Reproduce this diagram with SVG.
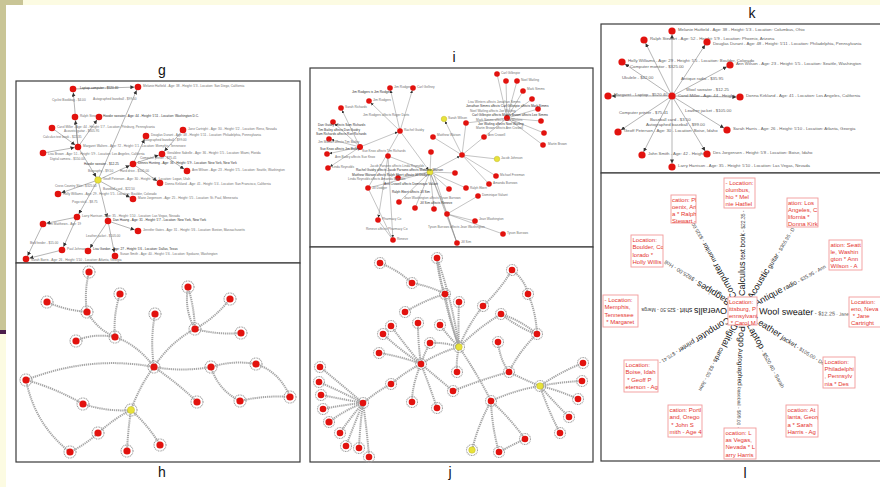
<svg xmlns="http://www.w3.org/2000/svg" width="880" height="487" viewBox="0 0 880 487">
<style>
.n{fill:#e2120e}
.y{fill:#e8e23a;stroke:#b5ad22;stroke-width:0.4}
.e{stroke:#6a6a6a;stroke-width:0.5;fill:none}
.ei{stroke:#7a7a7a;stroke-width:0.45;fill:none}
.ring{fill:none;stroke:#9c9c9c;stroke-width:1.1;stroke-dasharray:1 0.7}
.ce{fill:none;stroke:#a6a6a6;stroke-width:2;stroke-dasharray:1.3 0.8}
.fr{fill:#fff;stroke:#3a3a3a;stroke-width:1.2}
.lab{font-family:"Liberation Sans",Arial,sans-serif;font-size:14px;fill:#111;text-anchor:middle}
.t3{font-family:"Liberation Sans",Arial,sans-serif;font-size:3.2px;fill:#707070}
.td{fill:#303030}
.tk{font-family:"Liberation Sans",Arial,sans-serif;font-size:4.3px;fill:#606060}
.lb{fill:#fff;stroke:#f29a9a;stroke-width:0.9}
.lt{font-family:"Liberation Sans",Arial,sans-serif;font-size:6px;fill:#e5342e}
.et{font-family:"Liberation Sans",Arial,sans-serif;fill:#151515}
.es{fill:#484848}
</style>
<defs>
<marker id="ar" viewBox="0 0 10 10" refX="19" refY="5" markerUnits="userSpaceOnUse" markerWidth="4" markerHeight="4" orient="auto"><path d="M0,0L10,5L0,10z" fill="#333"/></marker>
<marker id="ai" viewBox="0 0 10 10" refX="18" refY="5" markerUnits="userSpaceOnUse" markerWidth="3" markerHeight="3" orient="auto"><path d="M0,0L10,5L0,10z" fill="#333"/></marker>
</defs>

<!-- slide background -->
<rect x="0" y="0" width="880" height="487" fill="#fff"/>
<rect x="0" y="0" width="880" height="5" fill="#fcfbe2"/>
<rect x="0" y="0" width="23" height="5" fill="#c9c596"/>
<rect x="0" y="0" width="6" height="330" fill="#c9c596"/>
<rect x="0" y="330" width="6" height="4" fill="#4b1d4b"/>
<rect x="0" y="334" width="6" height="153" fill="#fcfbe2"/>

<!-- frames -->
<g id="frames">
<rect class="fr" x="16" y="81" width="284" height="182"/>
<rect class="fr" x="16" y="263" width="284" height="199"/>
<rect class="fr" x="310" y="68" width="283" height="179"/>
<rect class="fr" x="310" y="247" width="283" height="215"/>
<rect class="fr" x="601" y="24" width="290" height="149"/>
<rect class="fr" x="601" y="173" width="290" height="288"/>
</g>

<g id="labels">
<text class="lab" x="162" y="75">g</text>
<text class="lab" x="162" y="477">h</text>
<text class="lab" x="454" y="62">i</text>
<text class="lab" x="450" y="477">j</text>
<text class="lab" x="752" y="18">k</text>
<text class="lab" x="745" y="478">l</text>
</g>

<!-- ================= panel g ================= -->
<g id="g-connectors">
<line class="e" x1="98" y1="180" x2="138" y2="87" marker-end="url(#ar)"/>
<line class="e" x1="78" y1="147" x2="73" y2="89" marker-end="url(#ar)"/>
<line class="e" x1="73" y1="89" x2="138" y2="87" marker-end="url(#ar)"/>
<line class="e" x1="78" y1="147" x2="99" y2="117" marker-end="url(#ar)"/>
<line class="e" x1="78" y1="147" x2="75" y2="117" marker-end="url(#ar)"/>
<line class="e" x1="52" y1="128" x2="78" y2="147" marker-end="url(#ar)"/>
<line class="e" x1="78" y1="147" x2="98" y2="180" marker-end="url(#ar)"/>
<line class="e" x1="43" y1="153" x2="78" y2="147" marker-end="url(#ar)"/>
<line class="e" x1="133" y1="164" x2="146" y2="136" marker-end="url(#ar)"/>
<line class="e" x1="98" y1="180" x2="133" y2="164" marker-end="url(#ar)"/>
<line class="e" x1="133" y1="164" x2="162" y2="154" marker-end="url(#ar)"/>
<line class="e" x1="183" y1="130" x2="162" y2="154" marker-end="url(#ar)"/>
<line class="e" x1="162" y1="154" x2="187" y2="171" marker-end="url(#ar)"/>
<line class="e" x1="133" y1="164" x2="160" y2="183" marker-end="url(#ar)"/>
<line class="e" x1="98" y1="180" x2="58" y2="194" marker-end="url(#ar)"/>
<line class="e" x1="98" y1="180" x2="133" y2="199" marker-end="url(#ar)"/>
<line class="e" x1="98" y1="180" x2="77" y2="217" marker-end="url(#ar)"/>
<line class="e" x1="98" y1="180" x2="108" y2="221" marker-end="url(#ar)"/>
<line class="e" x1="77" y1="217" x2="62" y2="250" marker-end="url(#ar)"/>
<line class="e" x1="108" y1="221" x2="88" y2="251" marker-end="url(#ar)"/>
<line class="e" x1="108" y1="221" x2="115" y2="256" marker-end="url(#ar)"/>
<line class="e" x1="108" y1="221" x2="138" y2="231" marker-end="url(#ar)"/>
<line class="e" x1="43" y1="224" x2="26" y2="259" marker-end="url(#ar)"/>
<line class="e" x1="77" y1="217" x2="43" y2="224" marker-end="url(#ar)"/>
<line class="e" x1="62" y1="250" x2="26" y2="259" marker-end="url(#ar)"/>
</g>
<g id="g-edge-labels" class="t3">
<text x="52" y="101">Cyclist Bookbag - $4.00</text><text x="93" y="100">Autographed baseball - $99.00</text>
<text x="43" y="138">Calculus text book - $22.35</text>
<text x="143" y="141">Autographed baseball - $99.00</text>
<text x="50" y="160">Digital camera - $150.00</text>
<text x="84" y="165" class="t3 td">Hoodie sweater - $12.25</text>
<text x="88" y="172">Biography - $9.50</text><text x="120" y="172">Hard drive - $105.00</text>
<text x="55" y="187">Cross Country Skis - $325.00</text><text x="103" y="190">Baseball card - $22.50</text>
<text x="72" y="203">Pogo stick - $8.75</text>
<text x="30" y="244">Bird feeder - $15.00</text><text x="86" y="237">Leather jacket - $105.00</text>
</g>
<g id="g-nodes">
<g id="g1"><circle class="n" cx="73" cy="89" r="3.3"/><text class="t3 td" x="80" y="89">Laptop computer - $520.40</text></g>
<g id="g2"><circle class="n" cx="138" cy="87" r="3.3"/><text class="t3" x="143" y="87">Melanie Hatfield - Age: 38 - Height: 5'3 - Location: San Diego, California</text></g>
<g id="g3"><circle class="n" cx="75" cy="117" r="3.3"/><text class="t3" x="80" y="117">Ralph Stewart</text></g>
<g id="g4"><circle class="n" cx="99" cy="117" r="3.3"/><text class="t3 td" x="103" y="117">Hoodie sweater - Age: 44 - Height: 5'11 - Location: Washington D.C.</text></g>
<g id="g5"><circle class="n" cx="52" cy="128" r="3.3"/><text class="t3" x="57" y="128">Carol Miller - Age: 44 - Height: 5'7 - Location: Pittsburg, Pennsylvania</text><text class="t3" x="64" y="132">Acoustic guitar - $305.95</text></g>
<g id="g6"><circle class="n" cx="183" cy="130" r="3.3"/><text class="t3" x="188" y="130">Jane Cartright - Age: 30 - Height: 5'2 - Location: Reno, Nevada</text></g>
<g id="g7"><circle class="n" cx="146" cy="136" r="3.3"/><text class="t3" x="151" y="136">Douglas Durant - Age: 48 - Height: 5'11 - Location: Philadelphia, Pennsylvania</text></g>
<g id="g8"><circle class="n" cx="78" cy="147" r="3.3"/><text class="t3" x="83" y="147">Margaret Walters - Age: 72 - Height: 5'1 - Location: Memphis, Tennessee</text></g>
<g id="g9"><circle class="n" cx="43" cy="153" r="3.3"/><text class="t3" x="48" y="154.5">Lisa Brown - Age: 51 - Height: 5'9 - Location: Los Angeles, California</text></g>
<g id="g10"><circle class="n" cx="162" cy="154" r="3.3"/><text class="t3" x="167" y="154">Geraldine Sabelle - Age: 36 - Height: 5'5 - Location: Miami, Florida</text><text class="t3" x="140" y="158.5">Computer printer - $75.41</text></g>
<g id="g11"><circle class="n" cx="133" cy="164" r="3.3"/><text class="t3 td" x="138" y="164">Dennis Hunting - Age: 36 - Height: 5'9 - Location: New York, New York</text></g>
<g id="g12"><circle class="n" cx="187" cy="171" r="3.3"/><text class="t3" x="192" y="171">Ann Wilson - Age: 23 - Height: 5'5 - Location: Seattle, Washington</text></g>
<g id="g13"><circle class="y" cx="98" cy="180" r="3.3"/><text class="t3" x="103" y="180">Geoff Peterson - Age: 30 - Height: 5'8 - Location: Logan, Utah</text></g>
<g id="g14"><circle class="n" cx="160" cy="183" r="3.3"/><text class="t3" x="165" y="185">Donna Kirkland - Age: 41 - Height: 5'4 - Location: San Francisco, California</text></g>
<g id="g15"><circle class="n" cx="58" cy="194" r="3.3"/><text class="t3" x="63" y="194.5">Holly Williams - Age: 29 - Height: 5'5 - Location: Boulder, Colorado</text></g>
<g id="g16"><circle class="n" cx="133" cy="199" r="3.3"/><text class="t3" x="138" y="199">Marie Jorgensen - Age: 25 - Height: 5'5 - Location: St. Paul, Minnesota</text></g>
<g id="g17"><circle class="n" cx="77" cy="217" r="3.3"/><text class="t3" x="82" y="216.5">Larry Harrison - Age: 35 - Height: 5'10 - Location: Las Vegas, Nevada</text></g>
<g id="g18"><circle class="n" cx="43" cy="224" r="3.3"/><text class="t3" x="48" y="225">Jim Matthews - Age: 19</text></g>
<g id="g19"><circle class="n" cx="108" cy="221" r="3.3"/><text class="t3 td" x="113" y="221">Dan Huang - Age: 31 - Height: 5'7 - Location: New York, New York</text></g>
<g id="g20"><circle class="n" cx="138" cy="231" r="3.3"/><text class="t3" x="143" y="231">Jennifer Gates - Age: 31 - Height: 5'6 - Location: Boston, Massachusetts</text></g>
<g id="g21"><circle class="n" cx="62" cy="250" r="3.3"/><text class="t3" x="67" y="250">Paul Johnson</text></g>
<g id="g22"><circle class="n" cx="88" cy="251" r="3.3"/><text class="t3 td" x="93" y="250">Lisa Gordon - Age: 27 - Height: 5'6 - Location: Dallas, Texas</text></g>
<g id="g23"><circle class="n" cx="115" cy="256" r="3.3"/><text class="t3" x="120" y="255">Susan Smith - Age: 40 - Height: 5'6 - Location: Spokane, Washington</text></g>
<g id="g24"><circle class="n" cx="26" cy="259" r="3.3"/><text class="t3" x="31" y="261">Sarah Barris - Age: 26 - Height: 5'10 - Location: Atlanta, Georgia</text></g>
</g>

<!-- ================= panel h ================= -->
<g id="h-connectors">
<path class="ce" d="M89 272Q84 292 87 312"/>
<path class="ce" d="M47 302Q65 310 87 312"/>
<path class="ce" d="M87 312Q98 330 115 337"/>
<path class="ce" d="M120 294Q113 315 115 337"/>
<path class="ce" d="M76 341Q92 333 115 337"/>
<path class="ce" d="M115 337Q138 345 154 367"/>
<path class="ce" d="M155 314Q150 340 154 367"/>
<path class="ce" d="M188 287Q184 310 195 329"/>
<path class="ce" d="M188 287Q194 306 195 329"/>
<path class="ce" d="M230 299Q215 318 195 329"/>
<path class="ce" d="M241 333Q218 335 195 329"/>
<path class="ce" d="M195 329Q170 342 154 367"/>
<path class="ce" d="M154 367Q182 372 211 367"/>
<path class="ce" d="M211 367Q233 360 256 364"/>
<path class="ce" d="M256 364Q280 372 290 397"/>
<path class="ce" d="M211 367Q218 390 240 401"/>
<path class="ce" d="M240 401Q265 395 290 397"/>
<path class="ce" d="M154 367Q180 385 197 402"/>
<path class="ce" d="M154 367Q90 355 26 380"/>
<path class="ce" d="M26 380Q55 388 83 404"/>
<path class="ce" d="M83 404Q108 412 131 410"/>
<path class="ce" d="M26 380Q35 425 70 452"/>
<path class="ce" d="M70 452Q85 445 98 433"/>
<path class="ce" d="M98 433Q115 418 131 410"/>
<path class="ce" d="M131 410Q140 385 154 367"/>
<path class="ce" d="M131 410Q128 430 127 451"/>
<path class="ce" d="M131 410Q148 425 160 445"/>
</g>
<g id="h-nodes">
<g id="h1"><circle class="ring" cx="89" cy="272" r="6"/><circle class="n" cx="89" cy="272" r="3.6"/></g>
<g id="h2"><circle class="ring" cx="47" cy="302" r="6"/><circle class="n" cx="47" cy="302" r="3.6"/></g>
<g id="h3"><circle class="ring" cx="87" cy="312" r="6"/><circle class="n" cx="87" cy="312" r="3.6"/></g>
<g id="h4"><circle class="ring" cx="120" cy="294" r="6"/><circle class="n" cx="120" cy="294" r="3.6"/></g>
<g id="h5"><circle class="ring" cx="76" cy="341" r="6"/><circle class="n" cx="76" cy="341" r="3.6"/></g>
<g id="h6"><circle class="ring" cx="115" cy="337" r="6"/><circle class="n" cx="115" cy="337" r="3.6"/></g>
<g id="h7"><circle class="ring" cx="155" cy="314" r="6"/><circle class="n" cx="155" cy="314" r="3.6"/></g>
<g id="h8"><circle class="ring" cx="154" cy="367" r="6"/><circle class="n" cx="154" cy="367" r="3.6"/></g>
<g id="h9"><circle class="ring" cx="188" cy="287" r="6"/><circle class="n" cx="188" cy="287" r="3.6"/></g>
<g id="h10"><circle class="ring" cx="230" cy="299" r="6"/><circle class="n" cx="230" cy="299" r="3.6"/></g>
<g id="h11"><circle class="ring" cx="195" cy="329" r="6"/><circle class="n" cx="195" cy="329" r="3.6"/></g>
<g id="h12"><circle class="ring" cx="241" cy="333" r="6"/><circle class="n" cx="241" cy="333" r="3.6"/></g>
<g id="h13"><circle class="ring" cx="211" cy="367" r="6"/><circle class="n" cx="211" cy="367" r="3.6"/></g>
<g id="h14"><circle class="ring" cx="256" cy="364" r="6"/><circle class="n" cx="256" cy="364" r="3.6"/></g>
<g id="h15"><circle class="ring" cx="290" cy="397" r="6"/><circle class="n" cx="290" cy="397" r="3.6"/></g>
<g id="h16"><circle class="ring" cx="240" cy="401" r="6"/><circle class="n" cx="240" cy="401" r="3.6"/></g>
<g id="h17"><circle class="ring" cx="197" cy="402" r="6"/><circle class="n" cx="197" cy="402" r="3.6"/></g>
<g id="h18"><circle class="ring" cx="26" cy="380" r="6"/><circle class="n" cx="26" cy="380" r="3.6"/></g>
<g id="h19"><circle class="ring" cx="83" cy="404" r="6"/><circle class="n" cx="83" cy="404" r="3.6"/></g>
<g id="h20"><circle class="ring" cx="131" cy="410" r="6"/><circle class="y" cx="131" cy="410" r="3.6"/></g>
<g id="h21"><circle class="ring" cx="98" cy="433" r="6"/><circle class="n" cx="98" cy="433" r="3.6"/></g>
<g id="h22"><circle class="ring" cx="70" cy="452" r="6"/><circle class="n" cx="70" cy="452" r="3.6"/></g>
<g id="h23"><circle class="ring" cx="127" cy="451" r="6"/><circle class="n" cx="127" cy="451" r="3.6"/></g>
<g id="h24"><circle class="ring" cx="160" cy="445" r="6"/><circle class="n" cx="160" cy="445" r="3.6"/></g>
</g>

<!-- ================= panel i ================= -->
<g id="i-connectors">
<line class="ei" x1="360" y1="147" x2="341" y2="108" marker-end="url(#ai)"/>
<line class="ei" x1="360" y1="147" x2="333" y2="122" marker-end="url(#ai)"/>
<line class="ei" x1="360" y1="147" x2="329" y2="139" marker-end="url(#ai)"/>
<line class="ei" x1="360" y1="147" x2="327" y2="154" marker-end="url(#ai)"/>
<line class="ei" x1="360" y1="147" x2="328" y2="168" marker-end="url(#ai)"/>
<line class="ei" x1="360" y1="147" x2="400" y2="131" marker-end="url(#ai)"/>
<line class="ei" x1="400" y1="131" x2="390" y2="88" marker-end="url(#ai)"/>
<line class="ei" x1="400" y1="131" x2="413" y2="88" marker-end="url(#ai)"/>
<line class="ei" x1="400" y1="131" x2="369" y2="101" marker-end="url(#ai)"/>
<line class="ei" x1="400" y1="131" x2="430" y2="172" marker-end="url(#ai)"/>
<line class="ei" x1="388" y1="156" x2="378" y2="220" marker-end="url(#ai)"/>
<line class="ei" x1="388" y1="156" x2="393" y2="240" marker-end="url(#ai)"/>
<line class="ei" x1="430" y1="172" x2="462" y2="155" marker-end="url(#ai)"/>
<line class="ei" x1="430" y1="172" x2="455" y2="173"/>
<line class="ei" x1="430" y1="172" x2="398" y2="178"/>
<line class="ei" x1="430" y1="172" x2="368" y2="188"/>
<line class="ei" x1="430" y1="172" x2="449" y2="189"/>
<line class="ei" x1="430" y1="172" x2="466" y2="188"/>
<line class="ei" x1="430" y1="172" x2="399" y2="202"/>
<line class="ei" x1="430" y1="172" x2="415" y2="208"/>
<line class="ei" x1="430" y1="172" x2="434" y2="209"/>
<line class="ei" x1="430" y1="172" x2="447" y2="214"/>
<line class="ei" x1="430" y1="172" x2="457" y2="243"/>
<line class="ei" x1="434" y1="175" x2="457" y2="243"/>
<line class="ei" x1="430" y1="172" x2="431" y2="152"/>
<line class="ei" x1="430" y1="172" x2="388" y2="156"/>
<line class="ei" x1="462" y1="155" x2="444" y2="119" marker-end="url(#ai)"/>
<line class="ei" x1="462" y1="155" x2="433" y2="137"/>
<line class="ei" x1="462" y1="155" x2="484" y2="137"/>
<line class="ei" x1="462" y1="155" x2="496" y2="176"/>
<line class="ei" x1="462" y1="155" x2="497" y2="159"/>
<line class="ei" x1="462" y1="155" x2="489" y2="184"/>
<line class="ei" x1="462" y1="155" x2="466" y2="123"/>
<line class="ei" x1="507" y1="118" x2="497" y2="74"/>
<line class="ei" x1="507" y1="118" x2="506" y2="81"/>
<line class="ei" x1="507" y1="118" x2="517" y2="81"/>
<line class="ei" x1="507" y1="118" x2="523" y2="91"/>
<line class="ei" x1="507" y1="118" x2="532" y2="99"/>
<line class="ei" x1="507" y1="118" x2="538" y2="109"/>
<line class="ei" x1="507" y1="118" x2="541" y2="121"/>
<line class="ei" x1="507" y1="118" x2="544" y2="133"/>
<line class="ei" x1="507" y1="118" x2="543" y2="145"/>
<line class="ei" x1="507" y1="118" x2="466" y2="123"/>
<line class="ei" x1="507" y1="118" x2="484" y2="137"/>
<line class="ei" x1="447" y1="214" x2="478" y2="196"/>
<line class="ei" x1="447" y1="214" x2="475" y2="221"/>
<line class="ei" x1="447" y1="214" x2="503" y2="234"/>
<line class="ei" x1="447" y1="214" x2="457" y2="243"/>
<line class="ei" x1="368" y1="188" x2="393" y2="240"/>
<line class="ei" x1="378" y1="220" x2="393" y2="240"/>
<line class="ei" x1="400" y1="131" x2="368" y2="188"/>
</g>
<g id="i-nodes">
<g id="i1"><circle class="n" cx="497" cy="74" r="2.8"/><text class="t3" x="501" y="74">Carl Gillespie</text></g>
<g id="i2"><circle class="n" cx="506" cy="81" r="2.8"/></g>
<g id="i3"><circle class="n" cx="517" cy="81" r="2.8"/><text class="t3" x="521" y="81">Noel Watling</text></g>
<g id="i4"><circle class="n" cx="390" cy="88" r="2.8"/><text class="t3" x="394" y="88">Jim Rodgers</text></g>
<g id="i5"><circle class="n" cx="413" cy="88" r="2.8"/><text class="t3" x="417" y="88">Carl Gellney</text></g>
<g id="i6"><circle class="n" cx="523" cy="91" r="2.8"/><text class="t3" x="527" y="90">Mark Simms</text></g>
<g id="i7"><circle class="n" cx="369" cy="101" r="2.8"/><text class="t3" x="373" y="101">Jim Rodgers</text></g>
<g id="i8"><circle class="n" cx="532" cy="99" r="2.8"/></g>
<g id="i9"><circle class="n" cx="341" cy="108" r="2.8"/><text class="t3" x="345" y="108">Sarah Richards</text></g>
<g id="i10"><circle class="n" cx="538" cy="109" r="2.8"/></g>
<g id="i11"><circle class="y" cx="444" cy="119" r="2.8"/><text class="t3" x="448" y="119">Sarah Wilson</text></g>
<g id="i12"><circle class="n" cx="507" cy="118" r="3"/></g>
<g id="i13"><circle class="n" cx="333" cy="122" r="2.8"/></g>
<g id="i14"><circle class="n" cx="466" cy="123" r="2.8"/></g>
<g id="i15"><circle class="n" cx="541" cy="121" r="2.8"/></g>
<g id="i16"><circle class="n" cx="400" cy="131" r="2.8"/><text class="t3" x="404" y="131">Rachel Guidry</text></g>
<g id="i17"><circle class="n" cx="329" cy="139" r="2.8"/></g>
<g id="i18"><circle class="n" cx="544" cy="133" r="2.8"/></g>
<g id="i19"><circle class="n" cx="433" cy="137" r="2.8"/><text class="t3" x="437" y="136">Matthew Watson</text></g>
<g id="i20"><circle class="n" cx="484" cy="137" r="2.8"/><text class="t3" x="488" y="136">Ann Crowell</text></g>
<g id="i21"><circle class="n" cx="360" cy="147" r="3"/></g>
<g id="i22"><circle class="n" cx="543" cy="145" r="2.8"/><text class="t3" x="548" y="145">Martin Brown</text></g>
<g id="i23"><circle class="n" cx="327" cy="154" r="2.8"/></g>
<g id="i24"><circle class="n" cx="462" cy="155" r="2.8"/></g>
<g id="i25"><circle class="n" cx="388" cy="156" r="2.8"/></g>
<g id="i26"><circle class="n" cx="431" cy="152" r="2.8"/></g>
<g id="i27"><circle class="y" cx="497" cy="159" r="2.8"/><text class="t3" x="501" y="159">Jacob Johnson</text></g>
<g id="i28"><circle class="n" cx="328" cy="168" r="2.8"/><text class="t3" x="332" y="168">Linda Reynolds</text></g>
<g id="i29"><circle class="y" cx="430" cy="172" r="3"/></g>
<g id="i30"><circle class="n" cx="455" cy="173" r="2.8"/></g>
<g id="i31"><circle class="n" cx="496" cy="176" r="2.8"/><text class="t3" x="500" y="176">Michael Freeman</text></g>
<g id="i32"><circle class="n" cx="398" cy="178" r="2.8"/></g>
<g id="i33"><circle class="n" cx="489" cy="184" r="2.8"/><text class="t3" x="493" y="184">Amanda Burrows</text></g>
<g id="i34"><circle class="n" cx="368" cy="188" r="2.8"/><text class="t3" x="372" y="189">Jill Dodger</text></g>
<g id="i35"><circle class="n" cx="449" cy="189" r="2.8"/></g>
<g id="i36"><circle class="n" cx="466" cy="188" r="2.8"/><text class="t3" x="470" y="189">Ralph Ebert</text></g>
<g id="i37"><circle class="n" cx="478" cy="196" r="2.8"/><text class="t3" x="482" y="196">Dominique Valiant</text></g>
<g id="i38"><circle class="n" cx="399" cy="202" r="2.8"/></g>
<g id="i39"><circle class="n" cx="415" cy="208" r="2.8"/></g>
<g id="i40"><circle class="n" cx="434" cy="209" r="2.8"/></g>
<g id="i41"><circle class="n" cx="447" cy="214" r="2.8"/></g>
<g id="i42"><circle class="n" cx="475" cy="221" r="2.8"/><text class="t3" x="479" y="220">Jean Washington</text></g>
<g id="i43"><circle class="n" cx="378" cy="220" r="2.8"/><text class="t3" x="382" y="220">Pharmacy Co</text></g>
<g id="i44"><circle class="n" cx="503" cy="234" r="2.8"/><text class="t3" x="507" y="234">Tyson Burrows</text></g>
<g id="i45"><circle class="n" cx="393" cy="240" r="2.8"/><text class="t3" x="397" y="240">Reneve</text></g>
<g id="i46"><circle class="n" cx="457" cy="243" r="2.8"/><text class="t3" x="461" y="243">Jill Sim</text></g>
</g>
<g id="i-edge-labels" class="t3">
<text x="352" y="93" class="t3 td">Jim Rodgers is Jim Rodgers</text>
<text x="363" y="116">Jim Rodgers affects Roger Darts</text>
<text x="318" y="126" class="t3 td">Dan Guidry affects Sam Richards</text>
<text x="318" y="130.5" class="t3 td">Tim Bailey affects Dan Guidry</text>
<text x="316" y="135" class="t3 td">Sam Richards affects Ron Richards</text>
<text x="318" y="143">Jim Moffatt affects Tim Bailey</text>
<text x="320" y="150" class="t3 td">Sue Knox affects Jim Bailey</text>
<text x="362" y="152">Sue Knox affects Tim Richards</text>
<text x="335" y="158">Ann Bailey affects Sue Knox</text>
<text x="468" y="103">Lisa Winters affects Jonathan Simms</text>
<text x="466" y="107" class="t3 td">Jonathan Simms affects Carl Gillespie affects Mark Simms</text>
<text x="470" y="111.5">Noel Watling affects Joe Watling</text>
<text x="472" y="116" class="t3 td">Carl Gillespie affects Martin Brown affects Lee Simms</text>
<text x="476" y="121">Mark Simms affects Lisa Winters</text>
<text x="478" y="125" class="t3 td">Joe Watling affects Noel Watling</text>
<text x="476" y="129">Martin Brown affects Ann Crowell</text>
<text x="370" y="167">Jacob Parsons affects Linda Reynolds</text>
<text x="356" y="171" class="t3 td">Rachel Guidry affects Jacob Parsons affects Matthew Watson</text>
<text x="352" y="175.5" class="t3 td">Matthew Watson affects Ralph Ebert affects Jill Dodger</text>
<text x="348" y="180">Linda Reynolds affects Amanda Burrows</text>
<text x="384" y="184.5" class="t3 td">Ann Crowell affects Dominique Valiant</text>
<text x="392" y="193" class="t3 td">Ralph Ebert affects Jill Sim</text>
<text x="404" y="199">Jean Washington affects Tyson Burrows</text>
<text x="420" y="204" class="t3 td">Jill Sim affects Reneve</text>
<text x="428" y="228">Tyson Burrows affects Jean Washington</text>
<text x="366" y="230">Reneve affects Pharmacy Co</text>
</g>

<!-- ================= panel j ================= -->
<g id="j-connectors">
<path class="ce" d="M380 263Q398 270 412 283"/>
<path class="ce" d="M412 283Q430 286 445 294"/>
<path class="ce" d="M437 258Q438 276 445 294"/>
<path class="ce" d="M437 258Q452 300 459 347"/>
<path class="ce" d="M437 258Q444 305 459 347"/>
<path class="ce" d="M405 312Q425 300 445 294"/>
<path class="ce" d="M445 294Q450 320 459 347"/>
<path class="ce" d="M459 302Q458 325 459 347"/>
<path class="ce" d="M483 306Q468 325 459 347"/>
<path class="ce" d="M501 314Q478 328 459 347"/>
<path class="ce" d="M440 325Q448 336 459 347"/>
<path class="ce" d="M430 343Q445 342 459 347"/>
<path class="ce" d="M457 372Q456 360 459 347"/>
<path class="ce" d="M421 364Q440 352 459 347"/>
<path class="ce" d="M459 347Q478 375 491 401"/>
<path class="ce" d="M512 270Q500 290 483 306"/>
<path class="ce" d="M512 270Q525 280 528 294"/>
<path class="ce" d="M528 294Q536 312 537 334"/>
<path class="ce" d="M501 314Q520 320 537 334"/>
<path class="ce" d="M501 314Q522 330 537 334"/>
<path class="ce" d="M498 342Q500 360 509 372"/>
<path class="ce" d="M537 334Q520 350 509 372"/>
<path class="ce" d="M509 372Q480 380 453 391"/>
<path class="ce" d="M509 372Q525 380 540 386"/>
<path class="ce" d="M391 326Q405 345 421 364"/>
<path class="ce" d="M383 334Q400 350 421 364"/>
<path class="ce" d="M379 353Q400 356 421 364"/>
<path class="ce" d="M418 323Q418 344 421 364"/>
<path class="ce" d="M430 343Q424 354 421 364"/>
<path class="ce" d="M421 364Q405 372 391 384"/>
<path class="ce" d="M421 364Q412 385 412 402"/>
<path class="ce" d="M421 364Q430 387 437 408"/>
<path class="ce" d="M421 364Q440 380 453 391"/>
<path class="ce" d="M391 384Q376 392 363 403"/>
<path class="ce" d="M320 367Q342 385 363 403"/>
<path class="ce" d="M319 382Q342 392 363 403"/>
<path class="ce" d="M321 395Q342 399 363 403"/>
<path class="ce" d="M323 409Q342 405 363 403"/>
<path class="ce" d="M329 422Q345 410 363 403"/>
<path class="ce" d="M340 433Q350 418 363 403"/>
<path class="ce" d="M346 446Q354 425 363 403"/>
<path class="ce" d="M359 448Q360 425 363 403"/>
<path class="ce" d="M369 457Q367 430 363 403"/>
<path class="ce" d="M583 363Q560 372 540 386"/>
<path class="ce" d="M582 381Q560 382 540 386"/>
<path class="ce" d="M578 399Q558 390 540 386"/>
<path class="ce" d="M569 417Q552 400 540 386"/>
<path class="ce" d="M560 433Q548 410 540 386"/>
<path class="ce" d="M491 401Q515 390 540 386"/>
<path class="ce" d="M491 401Q478 425 472 450"/>
<path class="ce" d="M491 401Q492 428 499 452"/>
<path class="ce" d="M491 401Q510 418 525 439"/>
<path class="ce" d="M499 452Q512 445 525 439"/>
</g>
<g id="j-nodes">
<g id="j1"><circle class="ring" cx="380" cy="263" r="5.5"/><circle class="n" cx="380" cy="263" r="3.3"/></g>
<g id="j2"><circle class="ring" cx="437" cy="258" r="5.5"/><circle class="n" cx="437" cy="258" r="3.3"/></g>
<g id="j3"><circle class="ring" cx="412" cy="283" r="5.5"/><circle class="n" cx="412" cy="283" r="3.3"/></g>
<g id="j4"><circle class="ring" cx="445" cy="294" r="5.5"/><circle class="n" cx="445" cy="294" r="3.3"/></g>
<g id="j5"><circle class="ring" cx="459" cy="302" r="5.5"/><circle class="n" cx="459" cy="302" r="3.3"/></g>
<g id="j6"><circle class="ring" cx="405" cy="312" r="5.5"/><circle class="n" cx="405" cy="312" r="3.3"/></g>
<g id="j7"><circle class="ring" cx="483" cy="306" r="5.5"/><circle class="n" cx="483" cy="306" r="3.3"/></g>
<g id="j8"><circle class="ring" cx="512" cy="270" r="5.5"/><circle class="n" cx="512" cy="270" r="3.3"/></g>
<g id="j9"><circle class="ring" cx="528" cy="294" r="5.5"/><circle class="n" cx="528" cy="294" r="3.3"/></g>
<g id="j10"><circle class="ring" cx="391" cy="326" r="5.5"/><circle class="n" cx="391" cy="326" r="3.3"/></g>
<g id="j11"><circle class="ring" cx="418" cy="323" r="5.5"/><circle class="n" cx="418" cy="323" r="3.3"/></g>
<g id="j12"><circle class="ring" cx="440" cy="325" r="5.5"/><circle class="n" cx="440" cy="325" r="3.3"/></g>
<g id="j13"><circle class="ring" cx="383" cy="334" r="5.5"/><circle class="n" cx="383" cy="334" r="3.3"/></g>
<g id="j14"><circle class="ring" cx="501" cy="314" r="5.5"/><circle class="n" cx="501" cy="314" r="3.3"/></g>
<g id="j15"><circle class="ring" cx="430" cy="343" r="5.5"/><circle class="n" cx="430" cy="343" r="3.3"/></g>
<g id="j16"><circle class="ring" cx="459" cy="347" r="5.5"/><circle class="y" cx="459" cy="347" r="3.3"/></g>
<g id="j17"><circle class="ring" cx="498" cy="342" r="5.5"/><circle class="n" cx="498" cy="342" r="3.3"/></g>
<g id="j18"><circle class="ring" cx="537" cy="334" r="5.5"/><circle class="n" cx="537" cy="334" r="3.3"/></g>
<g id="j19"><circle class="ring" cx="379" cy="353" r="5.5"/><circle class="n" cx="379" cy="353" r="3.3"/></g>
<g id="j20"><circle class="ring" cx="421" cy="364" r="5.5"/><circle class="n" cx="421" cy="364" r="3.3"/></g>
<g id="j21"><circle class="ring" cx="457" cy="372" r="5.5"/><circle class="n" cx="457" cy="372" r="3.3"/></g>
<g id="j22"><circle class="ring" cx="509" cy="372" r="5.5"/><circle class="n" cx="509" cy="372" r="3.3"/></g>
<g id="j23"><circle class="ring" cx="320" cy="367" r="5.5"/><circle class="n" cx="320" cy="367" r="3.3"/></g>
<g id="j24"><circle class="ring" cx="319" cy="382" r="5.5"/><circle class="n" cx="319" cy="382" r="3.3"/></g>
<g id="j25"><circle class="ring" cx="391" cy="384" r="5.5"/><circle class="n" cx="391" cy="384" r="3.3"/></g>
<g id="j26"><circle class="ring" cx="453" cy="391" r="5.5"/><circle class="n" cx="453" cy="391" r="3.3"/></g>
<g id="j27"><circle class="ring" cx="540" cy="386" r="5.5"/><circle class="y" cx="540" cy="386" r="3.3"/></g>
<g id="j28"><circle class="ring" cx="583" cy="363" r="5.5"/><circle class="n" cx="583" cy="363" r="3.3"/></g>
<g id="j29"><circle class="ring" cx="582" cy="381" r="5.5"/><circle class="n" cx="582" cy="381" r="3.3"/></g>
<g id="j30"><circle class="ring" cx="321" cy="395" r="5.5"/><circle class="n" cx="321" cy="395" r="3.3"/></g>
<g id="j31"><circle class="ring" cx="491" cy="401" r="5.5"/><circle class="n" cx="491" cy="401" r="3.3"/></g>
<g id="j32"><circle class="ring" cx="578" cy="399" r="5.5"/><circle class="n" cx="578" cy="399" r="3.3"/></g>
<g id="j33"><circle class="ring" cx="363" cy="403" r="5.5"/><circle class="n" cx="363" cy="403" r="3.3"/></g>
<g id="j34"><circle class="ring" cx="412" cy="402" r="5.5"/><circle class="n" cx="412" cy="402" r="3.3"/></g>
<g id="j35"><circle class="ring" cx="437" cy="408" r="5.5"/><circle class="n" cx="437" cy="408" r="3.3"/></g>
<g id="j36"><circle class="ring" cx="323" cy="409" r="5.5"/><circle class="n" cx="323" cy="409" r="3.3"/></g>
<g id="j37"><circle class="ring" cx="329" cy="422" r="5.5"/><circle class="n" cx="329" cy="422" r="3.6"/></g>
<g id="j38"><circle class="ring" cx="569" cy="417" r="5.5"/><circle class="n" cx="569" cy="417" r="3.3"/></g>
<g id="j39"><circle class="ring" cx="340" cy="433" r="5.5"/><circle class="n" cx="340" cy="433" r="3.3"/></g>
<g id="j40"><circle class="ring" cx="560" cy="433" r="5.5"/><circle class="n" cx="560" cy="433" r="3.3"/></g>
<g id="j41"><circle class="ring" cx="346" cy="446" r="5.5"/><circle class="n" cx="346" cy="446" r="3.3"/></g>
<g id="j42"><circle class="ring" cx="359" cy="448" r="5.5"/><circle class="n" cx="359" cy="448" r="3.3"/></g>
<g id="j43"><circle class="ring" cx="369" cy="457" r="5.5"/><circle class="n" cx="369" cy="457" r="3.3"/></g>
<g id="j44"><circle class="ring" cx="525" cy="439" r="5.5"/><circle class="n" cx="525" cy="439" r="3.3"/></g>
<g id="j45"><circle class="ring" cx="472" cy="450" r="5.5"/><circle class="y" cx="472" cy="450" r="3.3"/></g>
<g id="j46"><circle class="ring" cx="499" cy="452" r="5.5"/><circle class="n" cx="499" cy="452" r="3.3"/></g>
</g>

<!-- ================= panel k ================= -->
<g id="k-connectors">
<line class="e" x1="672" y1="96" x2="672" y2="31" marker-end="url(#ar)"/>
<line class="e" x1="672" y1="96" x2="644" y2="40" marker-end="url(#ar)"/>
<line class="e" x1="672" y1="96" x2="707" y2="42" marker-end="url(#ar)"/>
<line class="e" x1="672" y1="96" x2="622" y2="62" marker-end="url(#ar)"/>
<line class="e" x1="672" y1="96" x2="730" y2="65" marker-end="url(#ar)"/>
<line class="e" x1="672" y1="96" x2="608" y2="96" marker-end="url(#ar)"/>
<line class="e" x1="672" y1="96" x2="740" y2="97" marker-end="url(#ar)"/>
<line class="e" x1="672" y1="96" x2="618" y2="132" marker-end="url(#ar)"/>
<line class="e" x1="672" y1="96" x2="727" y2="130" marker-end="url(#ar)"/>
<line class="e" x1="672" y1="96" x2="642" y2="155" marker-end="url(#ar)"/>
<line class="e" x1="672" y1="96" x2="707" y2="154" marker-end="url(#ar)"/>
<line class="e" x1="672" y1="96" x2="672" y2="167" marker-end="url(#ar)"/>
</g>
<g id="k-edge-labels" class="tk">
<text x="630" y="68">Computer monitor - $325.00</text>
<text x="622" y="79">Ukulele - $42.00</text>
<text x="681" y="80">Antique radio - $35.95</text>
<text x="686" y="91">Wool sweater - $12.25</text>
<text x="619" y="114">Computer printer - $75.41</text>
<text x="685" y="112">Leather jacket - $105.00</text>
<text x="650" y="121">Baseball card - $3.50</text>
<text x="646" y="126">Autographed baseball - $99.00</text>
</g>
<g id="k-nodes">
<g id="k0"><circle class="n" cx="672" cy="96" r="3.6"/><text class="tk" x="678" y="97">Carol Miller - Age: 44 - Height:</text></g>
<g id="k1"><circle class="n" cx="672" cy="31" r="3.6"/><text class="tk" x="678" y="31">Melanie Hatfield - Age: 38 - Height: 5'3 - Location: Columbus, Ohio</text></g>
<g id="k2"><circle class="n" cx="644" cy="40" r="3.6"/><text class="tk" x="650" y="39.5">Ralph Stewart - Age: 52 - Height: 5'9 - Location: Phoenix, Arizona</text></g>
<g id="k3"><circle class="n" cx="707" cy="42" r="3.6"/><text class="tk" x="713" y="45">Douglas Durant - Age: 48 - Height: 5'11 - Location: Philadelphia, Pennsylvania</text></g>
<g id="k4"><circle class="n" cx="622" cy="62" r="3.6"/><text class="tk" x="628" y="62">Holly Williams - Age: 29 - Height: 5'5 - Location: Boulder, Colorado</text></g>
<g id="k5"><circle class="n" cx="730" cy="65" r="3.6"/><text class="tk" x="736" y="65">Ann Wilson - Age: 23 - Height: 5'5 - Location: Seattle, Washington</text></g>
<g id="k6"><circle class="n" cx="608" cy="96" r="3.6"/><text class="tk" x="614" y="96">Margaret - Laptop - $520.40</text></g>
<g id="k7"><circle class="n" cx="740" cy="97" r="3.6"/><text class="tk" x="746" y="97">Donna Kirkland - Age: 41 - Location: Los Angeles, California</text></g>
<g id="k8"><circle class="n" cx="618" cy="132" r="3.6"/><text class="tk" x="624" y="132">Geoff Peterson - Age: 30 - Location: Boise, Idaho</text></g>
<g id="k9"><circle class="n" cx="727" cy="130" r="3.6"/><text class="tk" x="733" y="130">Sarah Harris - Age: 26 - Height: 5'10 - Location: Atlanta, Georgia</text></g>
<g id="k10"><circle class="n" cx="642" cy="155" r="3.6"/><text class="tk" x="648" y="155">John Smith - Age: 42 - Height</text></g>
<g id="k11"><circle class="n" cx="707" cy="154" r="3.6"/><text class="tk" x="713" y="154">Des Jorgensen - Height: 5'8 - Location: Boise, Idaho</text></g>
<g id="k12"><circle class="n" cx="672" cy="167" r="3.6"/><text class="tk" x="678" y="167">Larry Harrison - Age: 35 - Height: 5'10 - Location: Las Vegas, Nevada</text></g>
</g>

<!-- ================= panel l ================= -->
<g id="l-connectors">
<text class="et" transform="translate(742 311) rotate(-90)"><tspan x="15" y="3" font-size="9">Calculus</tspan><tspan font-size="6.5"> text book</tspan><tspan class="es" font-size="5"> - $22.35 -</tspan></text>
<text class="et" transform="translate(742 311) rotate(-120)"><tspan x="15" y="3" font-size="9">Computer</tspan><tspan font-size="6.5"> monitor</tspan><tspan class="es" font-size="5"> - $325.00 -</tspan></text>
<text class="et" transform="translate(742 311) rotate(-148)"><tspan x="15" y="3" font-size="9">Bagpipes</tspan><tspan class="es" font-size="5.5"> - $925.00 - Holl</tspan></text>
<text class="et" transform="translate(742 311) rotate(180)"><tspan x="15" y="3" font-size="9">Overalls</tspan><tspan font-size="6.5"> shirt</tspan><tspan class="es" font-size="5"> - $25.50 - Marga</tspan></text>
<text class="et" transform="translate(742 311) rotate(147)"><tspan x="15" y="3" font-size="9">Computer</tspan><tspan font-size="6.5"> printer</tspan><tspan class="es" font-size="5"> - $75.41 - ...</tspan></text>
<text class="et" transform="translate(742 311) rotate(117)"><tspan x="15" y="3" font-size="9">Digital</tspan><tspan font-size="6.5"> cards</tspan><tspan class="es" font-size="5"> - $3.50 - John</tspan></text>
<text class="et" transform="translate(742 311) rotate(91)"><tspan x="15" y="3" font-size="9">Pogo</tspan><tspan font-size="6.5"> Autographed</tspan><tspan class="es" font-size="5"> baseball - $99.00 -</tspan></text>
<text class="et" transform="translate(742 311) rotate(61)"><tspan x="15" y="3" font-size="9">Laptop</tspan><tspan class="es" font-size="5.5"> - $520.40 - Sarah</tspan></text>
<text class="et" transform="translate(742 311) rotate(32)"><tspan x="15" y="3" font-size="9">Leather</tspan><tspan font-size="6.5"> jacket</tspan><tspan class="es" font-size="5"> - $105.00 - Des</tspan></text>
<text class="et" transform="translate(742 311) rotate(1)"><tspan x="17" y="3" font-size="9">Wool sweater</tspan><tspan class="es" font-size="5.5"> - $12.25</tspan><tspan class="es" font-size="4.5">  - Jane</tspan></text>
<text class="et" transform="translate(742 311) rotate(-29)"><tspan x="15" y="3" font-size="9">Antique</tspan><tspan font-size="6.5"> radio</tspan><tspan class="es" font-size="5"> - $35.95 - Ann</tspan></text>
<text class="et" transform="translate(742 311) rotate(-59)"><tspan x="15" y="3" font-size="9">Acoustic</tspan><tspan font-size="6.5"> guitar</tspan><tspan class="es" font-size="5"> - $305.95 - D</tspan></text>
</g>
<g id="l-nodes">
<g id="l1"><rect class="lb" x="724" y="178" width="31" height="30"/><svg x="724" y="178" width="31" height="30"><text class="lt" x="1.5" y="7"><tspan x="1.5">- Location:</tspan><tspan x="1.5" dy="7">olumbus,</tspan><tspan x="1.5" dy="7">hio  * Mel</tspan><tspan x="1.5" dy="7">nie Hatfiel</tspan></text></svg></g>
<g id="l2"><rect class="lb" x="671" y="195" width="25" height="28"/><svg x="671" y="195" width="25" height="28"><text class="lt" x="1" y="6.5"><tspan x="1">cation: Ph</tspan><tspan x="1" dy="7">oenix, Arizo</tspan><tspan x="1" dy="7">a  * Ralph</tspan><tspan x="1" dy="7">Stewart - A</tspan></text></svg></g>
<g id="l3"><rect class="lb" x="787" y="198" width="31" height="29"/><svg x="787" y="198" width="31" height="29"><text class="lt" x="1" y="6.5"><tspan x="1">ation: Los</tspan><tspan x="1" dy="7">Angeles, C</tspan><tspan x="1" dy="7">lifornia  *</tspan><tspan x="1" dy="7">Donna Kirk-</tspan></text></svg></g>
<g id="l4"><rect class="lb" x="631" y="235" width="32" height="32"/><svg x="631" y="235" width="32" height="32"><text class="lt" x="1.5" y="7"><tspan x="1.5">Location:</tspan><tspan x="1.5" dy="7.3">Boulder, Co</tspan><tspan x="1.5" dy="7.3">lorado  *</tspan><tspan x="1.5" dy="7.3">Holly Willis</tspan></text></svg></g>
<g id="l5"><rect class="lb" x="829" y="240" width="33" height="30"/><svg x="829" y="240" width="33" height="30"><text class="lt" x="1.5" y="7"><tspan x="1.5">ation: Seatt</tspan><tspan x="1.5" dy="7">le, Washin</tspan><tspan x="1.5" dy="7">gton  * Ann</tspan><tspan x="1.5" dy="7">Wilson - A</tspan></text></svg></g>
<g id="l6"><rect class="lb" x="603" y="295" width="35" height="32"/><svg x="603" y="295" width="35" height="32"><text class="lt" x="1.5" y="7"><tspan x="1.5">- Location:</tspan><tspan x="1.5" dy="7.3">Memphis,</tspan><tspan x="1.5" dy="7.3">Tennessee</tspan><tspan x="1.5" dy="7.3"> * Margaret</tspan></text></svg></g>
<g id="l8"><rect class="lb" x="849" y="297" width="33" height="30"/><svg x="849" y="297" width="30" height="30"><text class="lt" x="2" y="7"><tspan x="2">Location:</tspan><tspan x="2" dy="7">eno, Neva</tspan><tspan x="2" dy="7">   * Jane</tspan><tspan x="2" dy="7">Cartright</tspan></text></svg></g>
<g id="l9"><rect class="lb" x="624" y="360" width="34" height="32"/><svg x="624" y="360" width="34" height="32"><text class="lt" x="1.5" y="7"><tspan x="1.5">Location:</tspan><tspan x="1.5" dy="7.3">Boise, Idah</tspan><tspan x="1.5" dy="7.3">   * Geoff P</tspan><tspan x="1.5" dy="7.3">eterson - Ag</tspan></text></svg></g>
<g id="l10"><rect class="lb" x="823" y="357" width="32" height="31"/><svg x="823" y="357" width="32" height="31"><text class="lt" x="1.5" y="7"><tspan x="1.5">Location:</tspan><tspan x="1.5" dy="7.2">Philadelphi</tspan><tspan x="1.5" dy="7.2">, Pennsylv</tspan><tspan x="1.5" dy="7.2">nia  * Des</tspan></text></svg></g>
<g id="l11"><rect class="lb" x="668" y="405" width="34" height="32"/><svg x="668" y="405" width="34" height="32"><text class="lt" x="1.5" y="7"><tspan x="1.5">cation: Portl</tspan><tspan x="1.5" dy="7.3">and, Orego</tspan><tspan x="1.5" dy="7.3">   * John S</tspan><tspan x="1.5" dy="7.3">mith - Age 4</tspan></text></svg></g>
<g id="l12"><rect class="lb" x="786" y="405" width="32" height="32"/><svg x="786" y="405" width="32" height="32"><text class="lt" x="1.5" y="7"><tspan x="1.5">ocation: At</tspan><tspan x="1.5" dy="7.3">lanta, Georg</tspan><tspan x="1.5" dy="7.3">a  * Sarah</tspan><tspan x="1.5" dy="7.3">Harris - Ag</tspan></text></svg></g>
<g id="l13"><rect class="lb" x="724" y="428" width="32" height="31"/><svg x="724" y="428" width="32" height="31"><text class="lt" x="1.5" y="7"><tspan x="1.5">ocation: L</tspan><tspan x="1.5" dy="7.2">as Vegas,</tspan><tspan x="1.5" dy="7.2">Nevada  * L</tspan><tspan x="1.5" dy="7.2">arry Harris</tspan></text></svg></g>
<g id="l7"><rect class="lb" x="728" y="297" width="29" height="28"/><svg x="728" y="297" width="29" height="28"><text class="lt" x="1" y="6.5"><tspan x="1">Location:</tspan><tspan x="1" dy="7">ittsburg, P</tspan><tspan x="1" dy="7">ennsylvania</tspan><tspan x="1" dy="7"> * Carol M</tspan></text></svg></g>
</g>
</svg>
